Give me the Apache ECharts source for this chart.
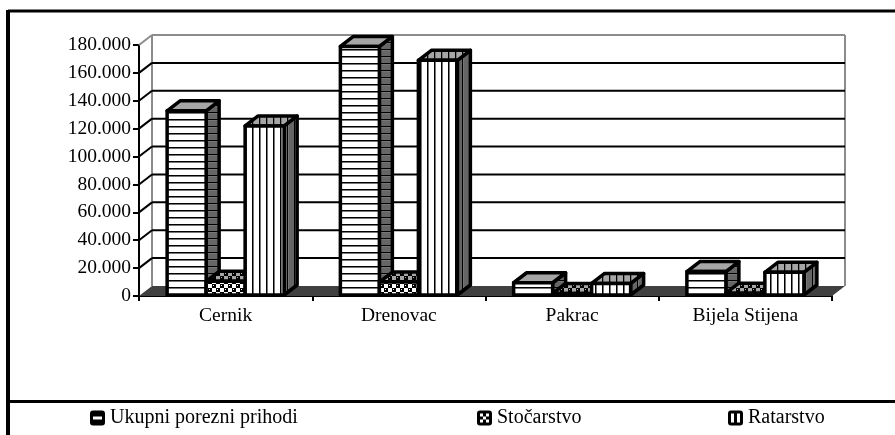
<!DOCTYPE html>
<html>
<head>
<meta charset="utf-8">
<title>Porezni prihodi</title>
<script src="https://cdn.jsdelivr.net/npm/echarts@6/dist/echarts.min.js"></script>
<style>
  html, body { margin: 0; padding: 0; background: #fff; }
  #chart { width: 895px; height: 435px; }
</style>
</head>
<body>
<div id="chart"></div>
<script>
(function () {
  'use strict';

  const categories = ['Cernik', 'Drenovac', 'Pakrac', 'Bijela Stijena'];
  const seriesNames = ['Ukupni porezni prihodi', 'Stočarstvo', 'Ratarstvo'];
  const ukupni = [132800, 179000, 9500, 17500];
  const stocarstvo = [10500, 10000, 1800, 2000];
  const ratarstvo = [122000, 169000, 9000, 17000];
  const yTicks = [0, 20000, 40000, 60000, 80000, 100000, 120000, 140000, 160000, 180000];

  const FONT = '"Liberation Serif", "Times New Roman", serif';
  const DEPTH_X = 13;
  const DEPTH_Y = 10;
  const BAR_SHARE = 39 / 173.25;

  function makePattern(w, h, bg, draw) {
    const c = document.createElement('canvas');
    c.width = w;
    c.height = h;
    const ctx = c.getContext('2d');
    ctx.fillStyle = bg;
    ctx.fillRect(0, 0, w, h);
    ctx.fillStyle = '#000';
    draw(ctx);
    return { image: c, repeat: 'repeat' };
  }

  function hLines(bg) {
    return makePattern(4, 7, bg, function (ctx) {
      ctx.fillRect(0, 0, 4, 1);
      ctx.fillStyle = '#777';
      ctx.fillRect(0, 1, 4, 1);
    });
  }
  function vLines(bg) {
    return makePattern(7, 4, bg, function (ctx) {
      ctx.fillRect(0, 0, 1, 4);
      ctx.fillStyle = '#777';
      ctx.fillRect(1, 0, 1, 4);
    });
  }
  function dots(bg) {
    return makePattern(8, 8, bg, function (ctx) {
      ctx.fillRect(0, 0, 4, 4);
      ctx.fillRect(4, 4, 4, 4);
      ctx.fillStyle = bg;
      ctx.fillRect(1, 1, 1, 1);
      ctx.fillRect(5, 5, 1, 1);
    });
  }

  const faces = [
    { front: hLines('#fff'), top: '#a6a6a6', side: hLines('#666') },
    { front: dots('#fff'), top: dots('#a6a6a6'), side: '#666' },
    { front: vLines('#fff'), top: vLines('#a6a6a6'), side: vLines('#666') }
  ];

  function face(points, fill) {
    return {
      type: 'polygon',
      shape: { points: points },
      style: { fill: fill, stroke: '#000', lineWidth: 3.5, lineJoin: 'round' }
    };
  }

  function barRenderer(seriesIndex) {
    return function (params, api) {
      const base = api.coord([api.value(0), 0]);
      const top = api.coord([api.value(0), api.value(1)]);
      const w = api.size([1, 0])[0] * BAR_SHARE;
      const x0 = base[0] + (seriesIndex - 1.5) * w;
      const x1 = x0 + w;
      const y0 = top[1];
      const y1 = base[1] - 1;
      const f = faces[seriesIndex];
      return {
        type: 'group',
        children: [
          face([[x1, y1], [x1 + DEPTH_X, y1 - DEPTH_Y], [x1 + DEPTH_X, y0 - DEPTH_Y], [x1, y0]], f.side),
          face([[x0, y0], [x0 + DEPTH_X, y0 - DEPTH_Y], [x1 + DEPTH_X, y0 - DEPTH_Y], [x1, y0]], f.top),
          face([[x0, y0], [x1, y0], [x1, y1], [x0, y1]], f.front)
        ]
      };
    };
  }

  function seg(x1, y1, x2, y2, color) {
    return {
      type: 'line',
      shape: { x1: x1, y1: y1, x2: x2, y2: y2 },
      style: { stroke: color, lineWidth: 2 }
    };
  }

  function wallRenderer(params, api) {
    const cs = params.coordSys;
    const v = api.value(0);
    const y = api.coord([0, v])[1];
    const left = cs.x;
    const right = cs.x + cs.width;
    const maxTick = v === yTicks[yTicks.length - 1];
    const children = [];
    if (v === 0) {
      children.push({
        type: 'polygon',
        shape: { points: [[left, y], [left + DEPTH_X, y - DEPTH_Y], [right + DEPTH_X, y - DEPTH_Y], [right, y]] },
        style: { fill: '#404040' }
      });
      children.push(seg(left + DEPTH_X, y - DEPTH_Y, left + DEPTH_X, cs.y - DEPTH_Y, '#8c8c8c'));
      children.push(seg(right + DEPTH_X, y - DEPTH_Y, right + DEPTH_X, cs.y - DEPTH_Y, '#8c8c8c'));
    } else {
      const color = maxTick ? '#8c8c8c' : '#000';
      children.push(seg(left, y, left + DEPTH_X, y - DEPTH_Y, color));
      children.push(seg(left + DEPTH_X, y - DEPTH_Y, right + DEPTH_X, y - DEPTH_Y, color));
    }
    return { type: 'group', children: children };
  }

  function legendAt(name, left, icon) {
    return {
      data: [{ name: name, icon: icon }],
      left: left,
      top: 408,
      itemWidth: 15,
      itemHeight: 15,
      itemStyle: { color: '#000' },
      textStyle: { fontFamily: FONT, fontSize: 20, color: '#000' },
      padding: 0,
      selectedMode: false
    };
  }

  const ICON_UKUPNI = 'path://M3 0H12Q15 0 15 3V12Q15 15 12 15H3Q0 15 0 12V3Q0 0 3 0ZM3 6V9H12V6Z';
  const ICON_STOCARSTVO = 'path://M3 0H12Q15 0 15 3V12Q15 15 12 15H3Q0 15 0 12V3Q0 0 3 0ZM3 3V6H6V3ZM9 3V6H12V3ZM6 6V9H9V6ZM3 9V12H6V9ZM9 9V12H12V9Z';
  const ICON_RATARSTVO = 'path://M3 0H12Q15 0 15 3V12Q15 15 12 15H3Q0 15 0 12V3Q0 0 3 0ZM3 3V12H6V3ZM9 3V12H12V3Z';

  const values = [ukupni, stocarstvo, ratarstvo];

  const chart = echarts.init(document.getElementById('chart'));
  chart.setOption({
    animation: false,
    backgroundColor: '#fff',
    grid: { left: 139, right: 63, top: 45, bottom: 139 },
    legend: [
      legendAt(seriesNames[0], 90, ICON_UKUPNI),
      legendAt(seriesNames[1], 477, ICON_STOCARSTVO),
      legendAt(seriesNames[2], 728, ICON_RATARSTVO)
    ],
    xAxis: {
      type: 'category',
      data: categories,
      boundaryGap: true,
      axisLine: { lineStyle: { color: '#000', width: 2 } },
      axisTick: { show: true, length: 5, lineStyle: { color: '#000', width: 2 } },
      axisLabel: { color: '#000', fontFamily: FONT, fontSize: 19.5, margin: 10 }
    },
    yAxis: {
      type: 'value',
      min: 0,
      max: 180000,
      interval: 20000,
      axisLine: { show: true, lineStyle: { color: '#000', width: 2 } },
      axisTick: { show: true, length: 6, lineStyle: { color: '#000', width: 2 } },
      splitLine: { show: false },
      axisLabel: {
        color: '#000',
        fontFamily: FONT,
        fontSize: 19.5,
        margin: 8,
        formatter: function (v) { return String(v).replace(/\B(?=(\d{3})+$)/g, '.'); }
      }
    },
    graphic: [
      { type: 'line', shape: { x1: 8, y1: 11, x2: 895, y2: 11 }, style: { stroke: '#000', lineWidth: 3 } },
      { type: 'line', shape: { x1: 8, y1: 10, x2: 8, y2: 435 }, style: { stroke: '#000', lineWidth: 4 } },
      { type: 'line', shape: { x1: 8, y1: 401.5, x2: 895, y2: 401.5 }, style: { stroke: '#000', lineWidth: 3 } }
    ],
    series: [
      {
        type: 'custom',
        name: 'wall',
        silent: true,
        z: 1,
        clip: false,
        renderItem: wallRenderer,
        encode: { y: 0 },
        data: yTicks.map(function (v) { return [v]; })
      }
    ].concat(seriesNames.map(function (name, i) {
      return {
        type: 'custom',
        name: name,
        z: 3 + i,
        clip: false,
        renderItem: barRenderer(i),
        encode: { x: 0, y: 1 },
        itemStyle: { color: '#000' },
        data: categories.map(function (c, j) { return [j, values[i][j]]; })
      };
    }))
  });
})();
</script>
</body>
</html>
